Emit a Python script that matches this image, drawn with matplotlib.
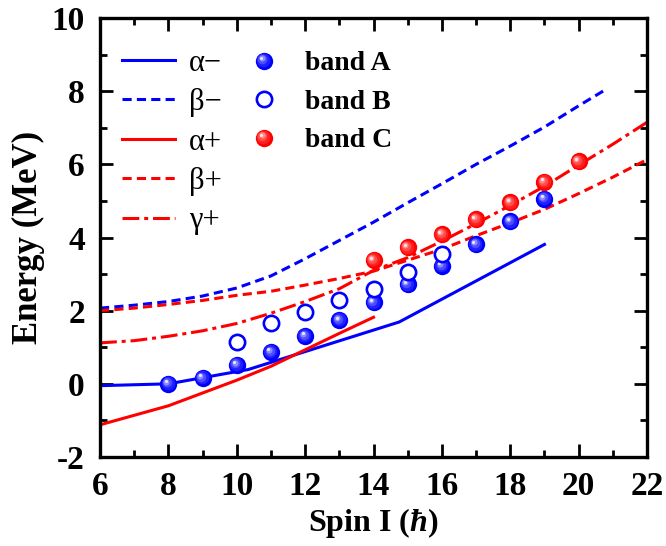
import numpy as np
import matplotlib
matplotlib.use('Agg')
import matplotlib.pyplot as plt
import matplotlib.transforms as mtransforms
from matplotlib.lines import Line2D
from matplotlib.ticker import MultipleLocator

# -----------------------------------------------------------------------------
# Experimental bands (spin, energy in MeV)
# -----------------------------------------------------------------------------
spin_a = [8, 9, 10, 11, 12, 13, 14, 15, 16, 17, 18, 19]
energy_a = [0.0, 0.16, 0.52, 0.87, 1.31, 1.74, 2.23, 2.72, 3.22, 3.81, 4.44, 5.06]

spin_b = [10, 11, 12, 13, 14, 15, 16]
energy_b = [1.14, 1.65, 1.97, 2.28, 2.58, 3.07, 3.54]

spin_c = [14, 15, 16, 17, 18, 19, 20]
energy_c = [3.38, 3.73, 4.09, 4.50, 4.96, 5.52, 6.08]

# -----------------------------------------------------------------------------
# Calculated curves
# -----------------------------------------------------------------------------
spin_alpha_m = [6, 8, 10.33, 14.75, 19]
energy_alpha_m = [-0.05, 0.0, 0.39, 1.69, 3.81]

spin_beta_m = [6, 7, 8, 9, 10, 11, 12, 13, 14, 15, 16, 17, 18, 19, 20, 20.8]
energy_beta_m = [2.07, 2.15, 2.25, 2.40, 2.62, 2.95, 3.42, 3.92, 4.42, 4.95,
                 5.47, 6.00, 6.50, 7.02, 7.60, 8.05]

spin_alpha_p = [6, 7, 8, 9, 10, 11, 12, 13, 14]
energy_alpha_p = [-1.12, -0.86, -0.60, -0.25, 0.10, 0.48, 0.93, 1.38, 1.82]

spin_beta_p = [6, 7, 8, 9, 10, 11, 12, 13, 14, 15, 16, 17, 18, 19, 20, 21, 22]
energy_beta_p = [2.00, 2.07, 2.17, 2.28, 2.42, 2.53, 2.70, 2.88, 3.08, 3.38,
                 3.68, 4.05, 4.40, 4.77, 5.20, 5.65, 6.13]

spin_gamma_p = [6, 7, 8, 9, 10, 11, 12, 13, 14, 15, 16, 17, 18, 19, 20, 21, 22]
energy_gamma_p = [1.12, 1.18, 1.30, 1.45, 1.65, 1.93, 2.25, 2.60, 3.10, 3.45,
                  3.90, 4.38, 4.88, 5.40, 5.98, 6.55, 7.15]

curve_labels = ['\u03b1\u2212', '\u03b2\u2212', '\u03b1+', '\u03b2+', '\u03b3+']
band_labels = ['band A', 'band B', 'band C']

# -----------------------------------------------------------------------------
# Style
# -----------------------------------------------------------------------------
plt.rcParams['font.family'] = ['Liberation Serif', 'DejaVu Serif']
plt.rcParams['axes.unicode_minus'] = False
plt.rcParams['mathtext.fontset'] = 'custom'
plt.rcParams['mathtext.rm'] = 'Liberation Serif:bold'
plt.rcParams['mathtext.it'] = 'Liberation Serif:italic:bold'
plt.rcParams['mathtext.bf'] = 'Liberation Serif:bold'

BALL = 12.5
# (size factor, offset in points, blend towards white)
ball_layers = [(1.0, 0.0, 0.0), (0.78, 0.5, 0.12), (0.55, 1.0, 0.3),
               (0.35, 1.6, 0.55), (0.18, 1.9, 0.9)]


def shade(color, t):
    c = np.array(matplotlib.colors.to_rgb(color))
    return tuple(c + (1 - c) * t)


def draw_balls(ax, fig, x, y, color, zorder=5):
    for f, d, t in ball_layers:
        tr = mtransforms.offset_copy(ax.transData, fig=fig, x=-d, y=d, units='points')
        ax.plot(x, y, 'o', ms=BALL * f, color=shade(color, t), mew=0,
                transform=tr, zorder=zorder)


class BallHandler:
    def __init__(self, color):
        self.color = color

    def legend_artist(self, legend, orig_handle, fontsize, handlebox):
        x0, y0 = handlebox.xdescent, handlebox.ydescent
        cx = x0 + handlebox.width / 2
        cy = y0 + handlebox.height / 2
        first = None
        for f, d, t in ball_layers:
            ln = Line2D([cx - d], [cy + d], marker='o', ls='none', ms=BALL * f,
                        color=shade(self.color, t), mew=0,
                        transform=handlebox.get_transform())
            handlebox.add_artist(ln)
            if first is None:
                first = ln
        return first


fig = plt.figure(figsize=(6.66, 5.46), dpi=100)
ax = fig.add_axes([0.1502, 0.163, 0.8213, 0.804])

LW = 2.2
h1, = ax.plot(spin_alpha_m, energy_alpha_m, color='#0000ff', lw=LW)
h2, = ax.plot(spin_beta_m, energy_beta_m, color='#0000ff', lw=LW, dashes=(3.0, 1.7))
h3, = ax.plot(spin_alpha_p, energy_alpha_p, color='#ff0000', lw=LW)
h4, = ax.plot(spin_beta_p, energy_beta_p, color='#ff0000', lw=LW, dashes=(3.0, 1.7))
h5, = ax.plot(spin_gamma_p, energy_gamma_p, color='#ff0000', lw=LW,
              dashes=(5.5, 1.6, 1.3, 1.6))

draw_balls(ax, fig, spin_a, energy_a, '#0000ff', zorder=5)
hb, = ax.plot(spin_b, energy_b, 'o', ms=11, mfc='white', mec='#0000ff',
              mew=1.9, zorder=6)
draw_balls(ax, fig, spin_c, energy_c, '#ff0000', zorder=7)

ax.set_xlim(6, 22)
ax.set_ylim(-2, 10)
ax.xaxis.set_major_locator(MultipleLocator(2))
ax.xaxis.set_minor_locator(MultipleLocator(1))
ax.yaxis.set_major_locator(MultipleLocator(2))
ax.yaxis.set_minor_locator(MultipleLocator(1))
ax.tick_params(which='both', direction='in', top=True, right=True, width=2)
ax.tick_params(which='major', length=9.5, labelsize=24)
ax.tick_params(axis='x', which='major', pad=10)
ax.tick_params(axis='y', which='major', pad=11)
ax.tick_params(which='minor', length=5)
for lab in ax.get_xticklabels() + ax.get_yticklabels():
    lab.set_fontweight('bold')
for sp in ax.spines.values():
    sp.set_linewidth(2.4)

ax.set_xlabel(r'Spin I ($\hbar$)', fontsize=23, fontweight='bold', labelpad=3)
ax.set_ylabel('Energy (MeV)', fontsize=25, fontweight='bold', labelpad=5)

leg1 = ax.legend([h1, h2, h3, h4, h5], curve_labels, loc='upper left',
                 bbox_to_anchor=(0.04, 0.93), frameon=False, fontsize=22,
                 handlelength=1.73, handletextpad=0.46, labelspacing=0.34,
                 borderpad=0, borderaxespad=0)
ax.add_artist(leg1)

ha = Line2D([], [], color='#0000ff')
hc = Line2D([], [], color='#ff0000')
ax.legend([ha, hb, hc], band_labels, loc='upper left',
          bbox_to_anchor=(0.274, 0.925), frameon=False, numpoints=1,
          prop={'size': 20, 'weight': 'bold'}, handlelength=1.0,
          handletextpad=0.97, labelspacing=0.47, borderpad=0, borderaxespad=0,
          handler_map={ha: BallHandler('#0000ff'), hc: BallHandler('#ff0000')})

fig.savefig('out.png', dpi=100)
